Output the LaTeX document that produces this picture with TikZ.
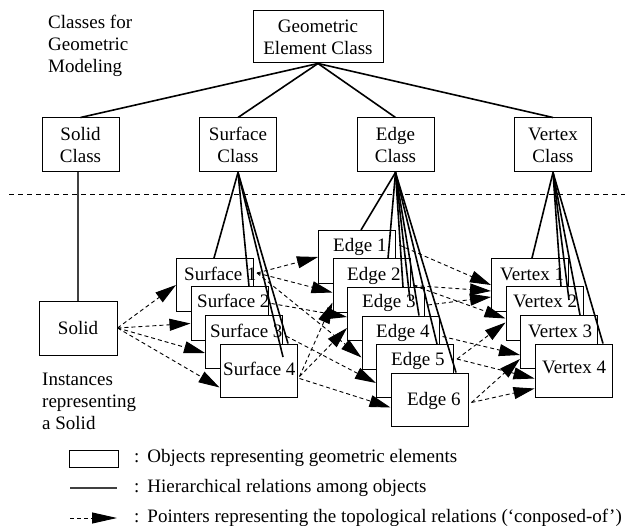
\documentclass[tikz,border=0pt]{standalone}
\usepackage{fontspec}
\setmainfont{Liberation Serif}
\usetikzlibrary{arrows.meta,calc}

\tikzset{
  clsbox/.style={draw, line width=1pt, fill=white, minimum width=77pt,
    minimum height=54pt, inner sep=0pt, align=center},
  instbox/.style={draw, line width=1pt, fill=white, minimum width=77pt,
    minimum height=53pt, inner sep=0pt, anchor=north west},
  lbl/.style={anchor=base west, inner sep=0pt},
  % multi-line captions: positioned by the baseline of their last line
  freetext/.style={anchor=base west, inner sep=0pt, align=left},
  hier/.style={line width=1.6pt},
  thinhier/.style={line width=1.1pt, black!75},
  ptr/.style={line width=0.9pt, dash pattern=on 4pt off 3pt,
    -{Triangle[length=21pt,width=12pt]}},
}

\begin{document}
\begin{tikzpicture}[x=1pt,y=-1pt,font=\fontsize{19}{22}\selectfont]
\useasboundingbox (0,0) rectangle (639,526);

% ---------- class level ----------
\node[freetext] (caption1) at (48,73) {Classes for\\Geometric\\Modeling};
\node[clsbox, minimum width=130pt, minimum height=52pt] (geo) at (318,37) {Geometric\\Element Class};
\node[clsbox] (solidc) at (80.5,145) {Solid\\Class};
\node[clsbox] (surfc) at (238,145) {Surface\\Class};
\node[clsbox] (edgec) at (395.5,145) {Edge\\Class};
\node[clsbox] (vertc) at (553,145) {Vertex\\Class};

\foreach \c in {solidc,surfc,edgec,vertc}
  \draw[hier] (geo.south) -- (\c.north);

% separator between classes and instances
\draw[line width=0.9pt, dash pattern=on 5pt off 4pt] (9,194) -- (625,194);

% ---------- instance level ----------
\node[clsbox, minimum width=78pt] (solid) at (78,328) {Solid};
\draw[thinhier] (solid.north) -- (solid.north |- solidc.south);

\node[freetext] (caption2) at (42,429) {Instances\\representing\\a Solid};

% surfaces
\node[instbox] (s1) at (176,258) {};
\node[lbl] (t-s1) at (184,280) {Surface 1};
\node[instbox] (s2) at (190.5,286.5) {};
\node[lbl] (t-s2) at (197,308) {Surface 2};
\node[instbox] (s3) at (205,315) {};
\node[lbl] (t-s3) at (210,337) {Surface 3};
\node[instbox] (s4) at (219.5,343.5) {};
\node[lbl] (t-s4) at (223,375) {Surface 4};

% edges
\node[instbox] (e1) at (318,230) {};
\node[lbl] (t-e1) at (333,252) {Edge 1};
\node[instbox] (e2) at (332.5,258.5) {};
\node[lbl] (t-e2) at (347,280) {Edge 2};
\node[instbox] (e3) at (347,287) {};
\node[lbl] (t-e3) at (362,308) {Edge 3};
\node[instbox] (e4) at (361.5,315.5) {};
\node[lbl] (t-e4) at (376,337) {Edge 4};
\node[instbox] (e5) at (376,344) {};
\node[lbl] (t-e5) at (391,365) {Edge 5};
\node[instbox] (e6) at (390.5,372.5) {};
\node[lbl] (t-e6) at (407,405) {Edge 6};

% vertices
\node[instbox] (v1) at (491,258) {};
\node[lbl] (t-v1) at (500,280) {Vertex 1};
\node[instbox] (v2) at (505.5,286.5) {};
\node[lbl] (t-v2) at (513,308) {Vertex 2};
\node[instbox] (v3) at (520,315) {};
\node[lbl] (t-v3) at (528,337) {Vertex 3};
\node[instbox] (v4) at (534.5,343.5) {};
\node[lbl] (t-v4) at (542,373) {Vertex 4};

% ---------- hierarchical fans ----------
\draw[hier] (surfc.south) -- ($(s1.north west)+(38,0)$);
\draw[hier] (surfc.south) -- ($(s2.north west)+(58.5,0)$);
\draw[hier] (surfc.south) -- ($(s4.north west)+(63.5,13.5)$);
\draw[hier] (surfc.south) -- ($(s4.north west)+(68.5,0)$);

\draw[hier] (edgec.south) -- ($(e1.north west)+(43,0)$);
\draw[hier] (edgec.south) -- ($(e2.north west)+(55.5,0)$);
\draw[hier] (edgec.south) -- ($(e3.north west)+(56,0)$);
\draw[hier] (edgec.south) -- ($(e3.north west)+(63,13)$);
\draw[hier] (edgec.south) -- ($(e4.north west)+(57.5,0)$);
\draw[hier] (edgec.south) -- ($(e5.north west)+(61,0)$);
\draw[hier] (edgec.south) -- ($(e6.north west)+(65.5,0)$);

\draw[hier] (vertc.south) -- ($(v1.north west)+(41,0)$);
\draw[hier] (vertc.south) -- ($(v2.north west)+(55.5,0)$);
\draw[hier] (vertc.south) -- ($(v2.north west)+(63.5,13.5)$);
\draw[hier] (vertc.south) -- ($(v3.north west)+(60,0)$);
\draw[hier] (vertc.south) -- ($(v4.north west)+(68.5,0)$);

% ---------- composed-of pointers ----------
% solid -> surfaces
\draw[ptr] (solid.east) -- (s1.west);
\draw[ptr] (solid.east) -- ($(s2.west)+(0,10)$);
\draw[ptr] (solid.east) -- ($(s3.west)+(0,11)$);
\draw[ptr] (solid.east) -- ($(s4.west)+(0,17)$);

% surfaces -> edges
\draw[ptr] ($(s1.north east)+(3,15)$) -- (e1.west);
\draw[ptr] ($(s1.north east)+(3,15)$) -- ($(e2.west)+(0,7)$);
\draw[ptr] ($(s1.north east)+(3,15)$) -- ($(e4.west)+(0,15)$);
\draw[ptr] ($(s2.north east)+(3,17)$) -- ($(e3.west)+(0,3)$);
\draw[ptr] ($(s3.north east)+(3,21)$) -- ($(e5.west)+(0,12)$);
\draw[ptr] ($(s4.east)+(2,8)$) -- ($(e6.west)+(0,8)$);
\draw[ptr] ($(s4.east)+(2,6)$) -- ($(e2.west)+(0,17)$);
\draw[ptr] ($(s4.east)+(2,6)$) -- ($(e3.west)+(0,14)$);

% edges -> vertices
\draw[ptr] ($(e1.north east)+(3,15)$) -- (v1.west);
\draw[ptr] ($(e2.east)+(3,0)$) -- ($(v1.west)+(0,6)$);
\draw[ptr] ($(e2.east)+(3,0)$) -- ($(v2.west)+(0,5)$);
\draw[ptr] ($(e3.north east)+(3,18)$) -- ($(v1.west)+(0,12)$);
\draw[ptr] ($(e4.north east)+(3,21)$) -- ($(v3.west)+(0,13)$);
\draw[ptr] ($(e5.north east)+(3,15)$) -- ($(v2.west)+(0,9)$);
\draw[ptr] ($(e5.north east)+(3,15)$) -- ($(v4.west)+(0,8)$);
\draw[ptr] ($(e6.east)+(3,3)$) -- ($(v3.west)+(0,17)$);
\draw[ptr] ($(e6.east)+(3,3)$) -- ($(v4.west)+(0,18)$);

% ---------- legend ----------
\node[draw, line width=1pt, minimum width=49pt, minimum height=17pt, inner sep=0pt] (legbox) at (93.5,458.5) {};
\node[lbl] (leg1) at (134,462) {:\hspace{8pt}Objects representing geometric elements};

\coordinate (legl-a) at (70,488);
\coordinate (legl-b) at (117,488);
\draw[thinhier] (legl-a) -- (legl-b);
\node[lbl] (leg2) at (134,492) {:\hspace{8pt}Hierarchical relations among objects};

\coordinate (lega-a) at (70,518);
\coordinate (lega-b) at (117,518);
\draw[ptr, -{Triangle[length=25pt,width=11pt]}] (lega-a) -- (lega-b);
\node[lbl] (leg3) at (134,522) {:\hspace{8pt}Pointers representing the topological relations (`conposed-of')};
\end{tikzpicture}
\end{document}
